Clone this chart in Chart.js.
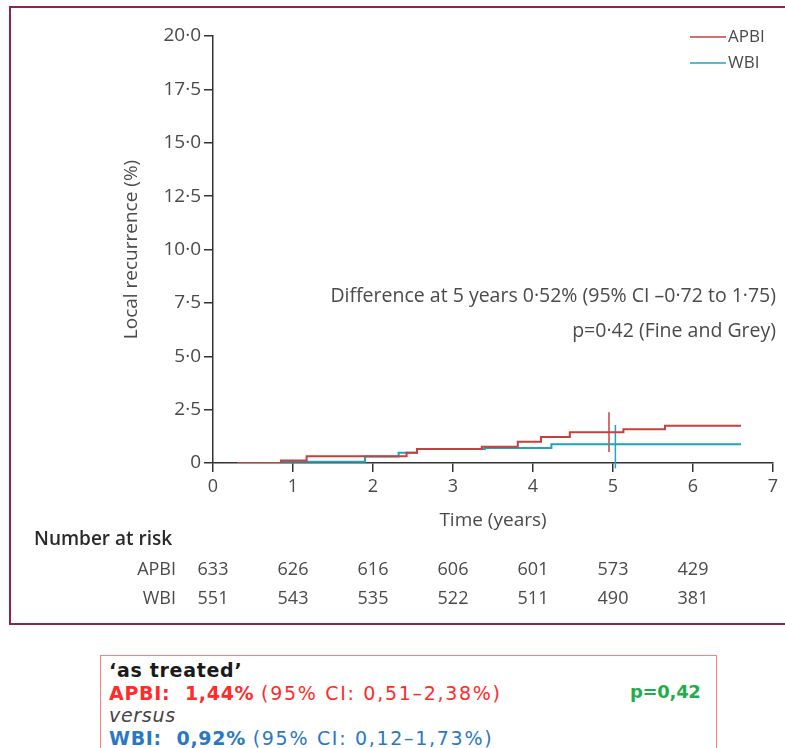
<!DOCTYPE html>
<html>
<head>
<meta charset="utf-8">
<script src="https://cdn.jsdelivr.net/npm/chart.js@4.4.1/dist/chart.umd.min.js"></script>
<style>
  html, body { margin:0; padding:0; background:#fff; }
  body { width:785px; height:748px; position:relative; overflow:hidden; }
  #frame { position:absolute; left:9px; top:6px; width:790px; height:619px; border:2px solid #8c2452; box-sizing:border-box; }
  #wrap { position:absolute; left:0; top:0; width:785px; height:640px; }
  #note { position:absolute; left:100px; top:655px; width:617px; height:110px; border:1px solid #ff8080;
          box-sizing:border-box; padding:3px 0 0 8px; font-family:'DejaVu Sans', sans-serif; font-size:19px;
          line-height:22.5px; letter-spacing:0.7px; }
  #note .l { white-space:nowrap; position:relative; }
  #note .r { letter-spacing:1.7px; }
</style>
</head>
<body>
<div id="frame"></div>
<div id="wrap"><canvas id="c" width="785" height="640"></canvas></div>
<div id="note">
  <div class="l" style="font-weight:bold;color:#1a1a1a">‘as treated’</div>
  <div class="l" style="color:#ff2b2b"><b>APBI:&nbsp; 1,44%</b> <span class="r">(95% CI: 0,51–2,38%)</span><span style="position:absolute;left:521px;top:-1px;color:#1fae4a;font-weight:bold;font-size:18px;letter-spacing:-0.3px">p=0,42</span></div>
  <div class="l" style="font-style:italic;color:#444">versus</div>
  <div class="l" style="color:#2a78c4"><b>WBI:&nbsp; 0,92%</b> <span class="r">(95% CI: 0,12–1,73%)</span></div>
</div>
<script>
// ---- data ----
const seriesNames = ['APBI', 'WBI'];
const apbiTimes  = [0.3, 0.85, 1.17, 2.42, 2.55, 3.36, 3.81, 4.10, 4.46, 5.13, 5.65, 6.60];
const apbiValues = [0,   0.12, 0.32, 0.48, 0.65, 0.76, 1.00, 1.22, 1.44, 1.58, 1.75, 1.75];
const wbiTimes   = [0.5, 0.85, 1.90, 2.32, 2.55, 3.40, 4.23, 6.60];
const wbiValues  = [0,   0.06, 0.30, 0.48, 0.65, 0.70, 0.88, 0.88];
const apbiCiTime = 4.95;
const apbiCi     = [0.51, 2.38];
const wbiCiTime  = 5.03;
const wbiCi      = [-0.25, 1.78];
const yTickLabels = ['0', '2·5', '5·0', '7·5', '10·0', '12·5', '15·0', '17·5', '20·0'];
const xTickLabels = ['0', '1', '2', '3', '4', '5', '6', '7'];
const riskTimes  = [0, 1, 2, 3, 4, 5, 6];
const apbiRisk   = [633, 626, 616, 606, 601, 573, 429];
const wbiRisk    = [551, 543, 535, 522, 511, 490, 381];
const annotationLines = ['Difference at 5 years 0·52% (95% CI –0·72 to 1·75)', 'p=0·42 (Fine and Grey)'];

const RED = '#c8403c';
const BLUE = '#22a3bd';
const TXT = '#4a4a4a';
const FONT = "'Open Sans', sans-serif";

const pts = (ts, vs) => ts.map((t, i) => ({ x: t, y: vs[i] }));

const overlay = {
  id: 'overlay',
  afterDraw(chart) {
    const ctx = chart.ctx;
    const xs = chart.scales.x;
    ctx.save();
    // legend
    const legY = [37, 63];
    [RED, BLUE].forEach((col, i) => {
      ctx.strokeStyle = col; ctx.lineWidth = 1.5;
      ctx.beginPath(); ctx.moveTo(690, legY[i]); ctx.lineTo(726, legY[i]); ctx.stroke();
      ctx.fillStyle = TXT; ctx.font = '17px ' + FONT; ctx.textAlign = 'left'; ctx.textBaseline = 'middle';
      ctx.fillText(seriesNames[i], 728, legY[i]);
    });
    // annotation
    ctx.font = '19.5px ' + FONT; ctx.textAlign = 'right'; ctx.fillStyle = TXT;
    ctx.fillText(annotationLines[0], 776, 296);
    ctx.fillText(annotationLines[1], 776, 331);
    // number at risk
    ctx.font = '600 19px ' + FONT; ctx.textAlign = 'left'; ctx.fillStyle = '#2a2a2a';
    ctx.fillText('Number at risk', 34, 540);
    ctx.font = '18px ' + FONT; ctx.fillStyle = TXT; ctx.textAlign = 'right';
    ctx.fillText(seriesNames[0], 176, 570);
    ctx.fillText(seriesNames[1], 176, 599);
    ctx.textAlign = 'center';
    riskTimes.forEach((t, i) => {
      const px = xs.getPixelForValue(t);
      ctx.fillText(String(apbiRisk[i]), px, 570);
      ctx.fillText(String(wbiRisk[i]), px, 599);
    });
    ctx.restore();
  }
};

new Chart(document.getElementById('c'), {
  type: 'line',
  data: {
    datasets: [
      { label: seriesNames[0], data: pts(apbiTimes, apbiValues), borderColor: RED, borderWidth: 2, stepped: 'before', pointRadius: 0, fill: false },
      { label: seriesNames[1], data: pts(wbiTimes, wbiValues), borderColor: BLUE, borderWidth: 2, stepped: 'before', pointRadius: 0, fill: false },
      { label: 'APBI CI', data: [{ x: apbiCiTime, y: apbiCi[0] }, { x: apbiCiTime, y: apbiCi[1] }], borderColor: RED, borderWidth: 1.5, pointRadius: 0, clip: false },
      { label: 'WBI CI', data: [{ x: wbiCiTime, y: wbiCi[0] }, { x: wbiCiTime, y: wbiCi[1] }], borderColor: BLUE, borderWidth: 1.5, pointRadius: 0, clip: false }
    ]
  },
  options: {
    responsive: false,
    animation: false,
    layout: { padding: { left: 120, top: 36, right: 12, bottom: 108 } },
    plugins: { legend: { display: false }, tooltip: { enabled: false } },
    scales: {
      x: {
        type: 'linear', min: 0, max: 7,
        afterFit: s => { s.height = 69; },
        afterBuildTicks: s => { s.ticks = xTickLabels.map((_, i) => ({ value: i })); },
        ticks: { callback: (v, i) => xTickLabels[i], color: TXT, font: { family: FONT, size: 18 }, padding: 4, maxRotation: 0, autoSkip: false },
        grid: { drawOnChartArea: false, drawTicks: true, tickLength: 9, color: '#333', lineWidth: 1.5 },
        border: { display: true, color: '#333', width: 1.5 },
        title: { display: true, text: 'Time (years)', color: TXT, font: { family: FONT, size: 19 }, padding: 0 }
      },
      y: {
        type: 'linear', min: 0, max: 20,
        afterFit: s => { s.width = 93; },
        afterBuildTicks: s => { s.ticks = yTickLabels.map((_, i) => ({ value: i * 2.5 })); },
        ticks: { callback: (v, i) => yTickLabels[i], color: TXT, font: { family: FONT, size: 19 }, padding: 3, autoSkip: false },
        grid: { drawOnChartArea: false, drawTicks: true, tickLength: 9, color: '#333', lineWidth: 1.5 },
        border: { display: true, color: '#333', width: 1.5 },
        title: { display: true, text: 'Local recurrence (%)', color: TXT, font: { family: FONT, size: 19 }, padding: 0 }
      }
    }
  },
  plugins: [overlay]
});
</script>
</body>
</html>
